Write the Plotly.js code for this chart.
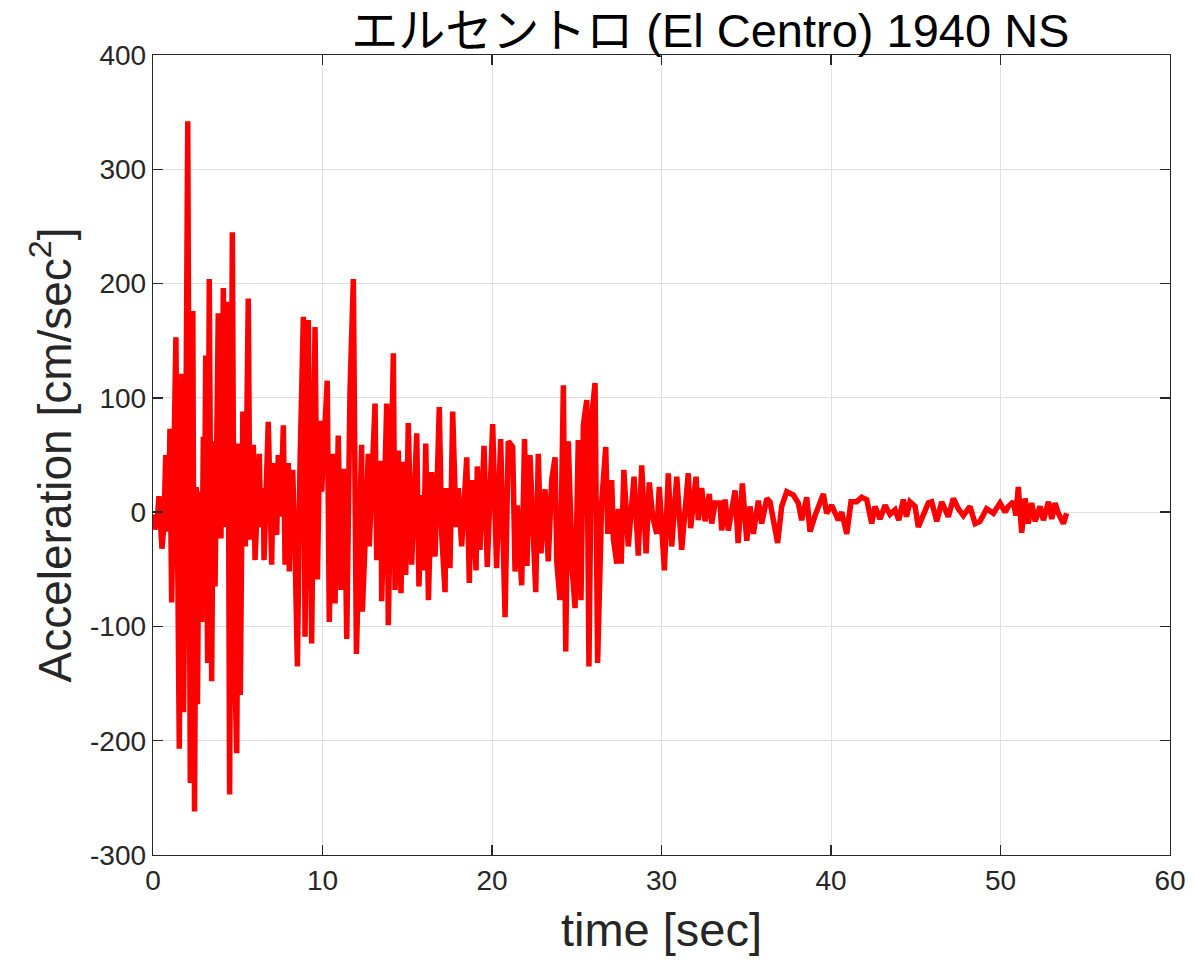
<!DOCTYPE html>
<html>
<head>
<meta charset="utf-8">
<script src="https://cdn.plot.ly/plotly-3.0.1.min.js"></script>
<style>html,body{margin:0;padding:0;background:#fff;}#chart{width:1194px;height:963px;}</style>
</head>
<body>
<div id="chart"></div>
<script>
const timeSec = [
0.0,0.1,0.25,0.35,0.53,0.65,0.75,0.9,1.0,1.1,1.35,1.55,1.7,1.8,1.9,2.05,2.2,2.35,2.45,2.55,2.62,2.72,2.87,2.97,3.03,3.11,3.22,3.32,3.46,3.56,3.66,3.85,4.01,4.15,4.29,4.42,4.52,4.68,4.8,4.94,5.05,5.15,5.3,5.45,5.62,5.72,5.92,6.02,6.27,6.35,6.51,6.55,6.8,7.0,7.1,7.3,7.39,7.53,7.69,7.79,7.98,8.04,8.12,8.24,8.38,8.52,8.67,8.87,8.97,9.16,9.36,9.56,9.7,9.85,9.95,10.28,10.4,10.6,10.74,10.93,11.09,11.29,11.43,11.62,11.82,12.0,12.31,12.35,12.55,12.7,12.76,13.1,13.2,13.45,13.49,13.79,13.88,14.18,14.28,14.47,14.63,14.77,14.91,15.06,15.26,15.56,15.69,15.85,15.95,16.09,16.25,16.44,16.64,16.89,17.03,17.23,17.29,17.52,17.68,17.88,18.01,18.21,18.51,18.66,18.8,19.06,19.13,19.29,19.53,19.72,20.04,20.27,20.51,20.77,20.96,21.22,21.36,21.49,21.75,21.92,22.06,22.24,22.58,22.73,22.89,23.13,23.32,23.52,23.72,23.82,24.01,24.21,24.35,24.5,24.74,24.9,25.09,25.25,25.39,25.59,25.72,25.88,26.08,26.23,26.47,26.71,26.83,27.06,27.16,27.36,27.45,27.62,27.78,28.04,28.38,28.63,28.83,29.09,29.28,29.48,29.72,29.87,30.17,30.4,30.6,30.9,31.19,31.58,31.72,32.04,32.17,32.37,32.57,32.82,32.96,33.16,33.45,33.55,33.75,33.94,34.34,34.52,34.77,35.03,35.22,35.42,35.71,35.91,36.21,36.4,36.85,37.09,37.39,37.78,38.07,38.27,38.57,38.76,39.06,39.29,39.55,39.74,40.04,40.43,40.63,40.93,41.18,41.51,41.81,42.11,42.4,42.6,42.89,43.19,43.48,43.78,44.0,44.27,44.45,44.66,44.96,45.15,45.45,45.74,45.94,46.24,46.53,46.92,47.22,47.51,47.81,48.2,48.5,48.79,49.18,49.58,49.97,50.27,50.46,50.76,50.91,51.05,51.25,51.45,51.64,51.84,52.04,52.33,52.53,52.83,53.02,53.22,53.41,53.71,53.9
];
const accel = [
-2,-15,-8,14,-32,-10,50,-17,73,-79,153,-207,121,-175,-30,342,-237,176,-262,22,-168,18,-96,66,-39,137,-132,204,-148,62,-65,174,-23,196,-13,184,-247,245,-120,-211,60,-160,88,-30,187,-24,59,-42,51,-13,21,-42,79,-46,43,-20,50,-4,76,-46,43,-52,19,37,-33,-135,40,171,-109,168,-115,162,-59,80,18,115,-96,51,-80,67,-68,38,-111,104,204,-124,59,-87,-13,51,-30,95,-42,45,-78,95,-99,139,-68,54,-71,44,-55,78,-46,69,-65,15,-51,60,-77,35,-39,92,-19,-70,21,-49,88,-13,21,-30,48,-62,28,-51,40,-33,58,-48,77,-49,64,-92,62,57,-52,6,-64,64,-47,50,-70,51,-36,20,-43,28,48,-43,-77,111,-122,62,-51,-84,63,-77,76,98,-135,83,113,-132,8,57,-19,28,-23,-45,3,-45,37,-30,31,-38,41,-36,26,-4,-19,22,-51,34,-30,31,-33,34,-14,31,-7,21,-8,16,-10,8,8,-16,11,-16,19,-27,25,-25,5,-19,10,-10,12,9,-27,5,18,15,8,-7,13,-17,-3,6,16,-1,6,-7,0,-19,9,9,13,11,-10,5,-6,6,-2,2,-7,11,-4,9,5,-13,-1,8,9,-8,9,-4,12,3,-3,5,-10,-8,3,-1,8,0,5,9,-3,22,-18,12,-10,8,-8,5,-7,9,-6,8,-1,-10,-1,0
];
const xTicks = [0,10,20,30,40,50,60];
const yTicks = [-300,-200,-100,0,100,200,300,400];
const titleText = 'エルセントロ (El Centro) 1940 NS';
const xTitle = 'time [sec]';
const yTitle = 'Acceleration [cm/sec<sup>2</sup>]';

const trace = {
  x: timeSec, y: accel, type: 'scatter', mode: 'lines',
  line: {color: '#FF0000', width: 5.5, shape: 'linear'},
  hoverinfo: 'none'
};
const axisCommon = {
  showline: true, mirror: 'ticks', linecolor: '#262626', linewidth: 1.3,
  ticks: 'inside', ticklen: 10, tickwidth: 1.3, tickcolor: '#262626',
  showgrid: true, gridcolor: '#e0e0e0', gridwidth: 1, zeroline: false,
  tickfont: {family: 'Liberation Sans, Arial, sans-serif', size: 28, color: '#262626'}
};
const layout = {
  width: 1194, height: 963,
  margin: {l: 153, r: 24, t: 55, b: 108, pad: 0},
  paper_bgcolor: '#ffffff', plot_bgcolor: '#ffffff',
  showlegend: false,
  title: {
    text: titleText, x: 0.548, xref: 'paper', xanchor: 'center',
    y: 0.968, yref: 'container', yanchor: 'middle',
    font: {family: 'Liberation Sans, Noto Sans CJK JP, sans-serif', size: 47, color: '#000000'}
  },
  xaxis: Object.assign({}, axisCommon, {
    range: [0, 60], tickvals: xTicks, ticktext: xTicks.map(String),
    title: {text: xTitle, standoff: 18, font: {family: 'Liberation Sans, Arial, sans-serif', size: 47, color: '#262626'}}
  }),
  yaxis: Object.assign({}, axisCommon, {
    range: [-300, 400], tickvals: yTicks, ticktext: yTicks.map(String),
    title: {text: yTitle, standoff: 4, font: {family: 'Liberation Sans, Arial, sans-serif', size: 46, color: '#262626'}}
  })
};
Plotly.newPlot('chart', [trace], layout, {staticPlot: true, displayModeBar: false});
</script>
</body>
</html>
